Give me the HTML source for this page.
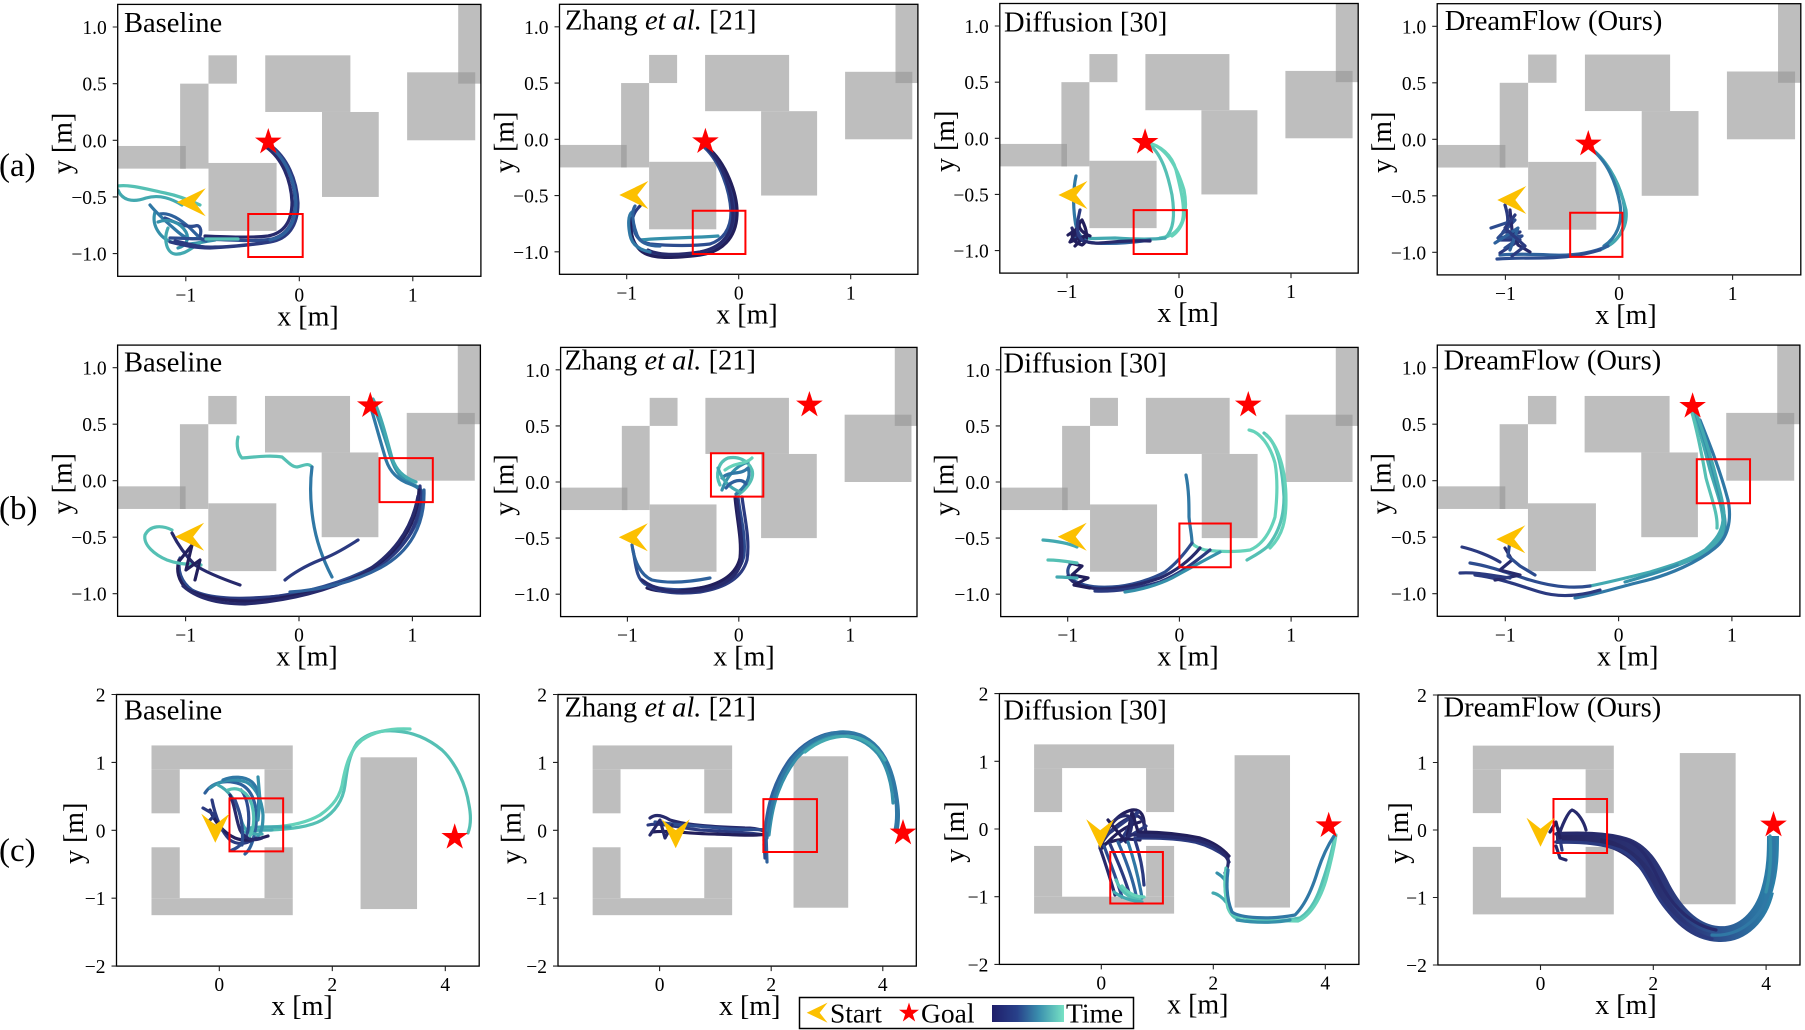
<!DOCTYPE html>
<html><head><meta charset="utf-8"><style>
html,body{margin:0;padding:0;background:#fff;}
svg{display:block;}
text{font-family:"Liberation Serif","Times New Roman",serif;fill:#000;}
.ti{font-size:28.5px;}
.tk{font-size:19.5px;}
.yt{text-anchor:end;}
.xt{text-anchor:middle;}
.al{font-size:28px;text-anchor:middle;}
.rl{font-size:33px;}
.lg{font-size:27.5px;}
.sp{fill:none;stroke:#000;stroke-width:1.3;}
.tm{stroke:#222;stroke-width:1.1;fill:none;}
.t{fill:none;stroke-width:3.2;stroke-linecap:round;stroke-linejoin:round;}
.n0{stroke:#221f5c}.n1{stroke:#272a6c}.n2{stroke:#2b3a80}.n3{stroke:#2d4c8f}.n4{stroke:#2e619c}.n5{stroke:#3078a5}.n6{stroke:#3590aa}.n7{stroke:#43a9b0}.n8{stroke:#55c0b4}.n9{stroke:#65d2ba}
.gc{stroke:url(#gc4)}
.rb{fill:none;stroke:#ff0000;stroke-width:2;vector-effect:non-scaling-stroke;}
.ob{fill:#bebebe;}
.ov{fill:#a5a5a5;}
.st{fill:#ff0000;}
.sm{fill:#fcc000;}
</style></head><body>
<svg width="1805" height="1030" viewBox="0 0 1805 1030" xmlns="http://www.w3.org/2000/svg">
<defs>
<g id="obsAB">
<rect class="ob" x="-0.8" y="0.5" width="0.25" height="0.25"/>
<rect class="ob" x="-1.05" y="-0.25" width="0.25" height="0.75"/>
<rect class="ob" x="-1.7" y="-0.25" width="0.7" height="0.2"/>
<rect class="ob" x="-0.8" y="-0.8" width="0.6" height="0.6"/>
<rect class="ob" x="-0.3" y="0.25" width="0.75" height="0.5"/>
<rect class="ob" x="0.2" y="-0.5" width="0.5" height="0.75"/>
<rect class="ob" x="0.95" y="0" width="0.6" height="0.6"/>
<rect class="ob" x="1.4" y="0.5" width="0.3" height="0.8"/>
<rect class="ov" x="-1.05" y="-0.25" width="0.05" height="0.2"/>
<rect class="ov" x="1.4" y="0.5" width="0.15" height="0.1"/>
</g>
<g id="obsU">
<rect class="ob" x="-1.2" y="0.9" width="2.5" height="0.35"/>
<rect class="ob" x="-1.2" y="0.25" width="0.5" height="0.65"/>
<rect class="ob" x="0.8" y="0.25" width="0.5" height="0.65"/>
<rect class="ob" x="-1.2" y="-1.25" width="2.5" height="0.25"/>
<rect class="ob" x="-1.2" y="-1" width="0.5" height="0.75"/>
<rect class="ob" x="0.8" y="-1" width="0.5" height="0.75"/>
</g>
<polygon id="star" points="0,-1 0.2245,-0.309 0.9511,-0.309 0.3633,0.118 0.5878,0.809 0,0.382 -0.5878,0.809 -0.3633,0.118 -0.9511,-0.309 -0.2245,-0.309"/>
<polygon id="chev" points="0,0 29,-14 18,0 29,14"/>
<linearGradient id="lgd" x1="0" y1="0" x2="1" y2="0">
<stop offset="0" stop-color="#1f1e6a"/><stop offset="0.35" stop-color="#28418a"/><stop offset="0.65" stop-color="#3a8fae"/><stop offset="1" stop-color="#77e2c4"/>
</linearGradient>
<linearGradient id="gc4" x1="0" y1="0" x2="1" y2="0">
<stop offset="0" stop-color="#262560"/><stop offset="0.5" stop-color="#2b3578"/><stop offset="0.75" stop-color="#2d5592"/><stop offset="1" stop-color="#2b80a8"/>
</linearGradient>
<clipPath id="ca1"><rect x="117.7" y="4.4" width="363.2" height="271.9"/></clipPath>
<clipPath id="ca2"><rect x="559.5" y="4.3" width="358.4" height="270"/></clipPath>
<clipPath id="ca3"><rect x="999.8" y="3.5" width="358.4" height="269.6"/></clipPath>
<clipPath id="ca4"><rect x="1437.2" y="3.7" width="363.6" height="271.2"/></clipPath>
<clipPath id="cb1"><rect x="117.6" y="345.1" width="362.8" height="271.2"/></clipPath>
<clipPath id="cb2"><rect x="560.6" y="347.4" width="356.4" height="269.2"/></clipPath>
<clipPath id="cb3"><rect x="1000.7" y="347.4" width="357.4" height="269.2"/></clipPath>
<clipPath id="cb4"><rect x="1437.3" y="345.1" width="362.6" height="271.2"/></clipPath>
<clipPath id="cc1"><rect x="116.5" y="694.5" width="362.7" height="271.6"/></clipPath>
<clipPath id="cc2"><rect x="558" y="694.5" width="358.3" height="271.6"/></clipPath>
<clipPath id="cc3"><rect x="999.4" y="693.6" width="359.5" height="270.8"/></clipPath>
<clipPath id="cc4"><rect x="1437.9" y="695" width="362.1" height="270"/></clipPath>
</defs>
<rect x="0" y="0" width="1805" height="1030" fill="#fff"/>

<!-- Row labels -->
<text class="rl" x="-1" y="176">(a)</text>
<text class="rl" x="-1" y="519">(b)</text>
<text class="rl" x="-1" y="861">(c)</text>

<!-- ===== a1 ===== -->
<g clip-path="url(#ca1)">
<use href="#obsAB" transform="matrix(113.5,0,0,-113.3,299.3,140.3)"/>
<path class="t n8" d="M118,186 C130,184 150,190 165,193 C175,195 185,198 200,205"/>
<path class="t n7" d="M118,190 C122,200 132,203 146,198 C160,194 172,199 182,205"/>
<path class="t n6" d="M155,212 C151,226 161,240 175,243 C190,246 200,242 215,240"/>
<path class="t n7" d="M168,228 C163,240 167,253 175,254 C185,255 191,248 200,243"/>
<path class="t n4" d="M160,214 C170,212 181,220 190,228 C197,235 201,240 206,241"/>
<path class="t n5" d="M150,205 C158,215 170,225 178,232 C185,238 190,240 198,238"/>
<path class="t n3" d="M165,218 C175,222 185,228 195,226 C200,224 202,230 200,236"/>
<path class="t n6" d="M158,222 C168,218 180,222 186,232 C190,240 185,246 178,248"/>
<path class="t n3" d="M268,146 C284,156 294,178 295,200 C296,222 287,235 272,239 C255,242 232,240 205,239 C192,239 180,238 170,238"/>
<path class="t n2" d="M270,145 C287,157 297,180 298,203 C298,226 288,239 270,242 C252,245 230,247 210,248 C195,248 182,245 170,242"/>
<path class="t n1" d="M266,147 C282,158 291,180 292,202 C292,222 284,233 268,236 C250,238 230,237 205,236"/>
<path class="t n4" d="M269,146 C285,157 295,180 296,202 C296,224 286,237 270,240"/>
<path class="t n2" d="M175,241 C190,244 200,248 215,247 C230,247 245,245 262,243"/>
<path class="t n8" d="M206,239 L238,239"/>
<rect class="rb" transform="matrix(113.5,0,0,-113.3,299.3,140.3)" x="-0.45" y="-1.03" width="0.48" height="0.38"/>
</g>
<use href="#star" class="st" transform="translate(268.3,142) scale(14)"/>
<use href="#chev" class="sm" transform="translate(176.7,202.3)"/>
<rect class="sp" x="117.7" y="4.4" width="363.2" height="271.9"/>
<path class="tm" d="M112.7,27H117.7M112.7,83.65H117.7M112.7,140.3H117.7M112.7,196.95H117.7M112.7,253.6H117.7M185.8,276.3V281.3M299.3,276.3V281.3M412.8,276.3V281.3"/>
<text class="ti" x="124" y="32">Baseline</text>
<text class="tk yt" x="106.7" y="34">1.0</text><text class="tk yt" x="106.7" y="90.65">0.5</text><text class="tk yt" x="106.7" y="147.3">0.0</text><text class="tk yt" x="106.7" y="203.95">−0.5</text><text class="tk yt" x="106.7" y="260.6">−1.0</text>
<text class="tk xt" x="185.8" y="301.3">−1</text><text class="tk xt" x="299.3" y="301.3">0</text><text class="tk xt" x="412.8" y="301.3">1</text>
<text class="al" x="308" y="325.3">x [m]</text>
<text class="al" transform="translate(71.7,143.4) rotate(-90)">y [m]</text>

<!-- ===== a2 ===== -->
<g clip-path="url(#ca2)">
<use href="#obsAB" transform="matrix(112,0,0,-112.5,738.7,139.3)"/>
<path class="t n2" d="M706,147 C722,158 735,190 735,210 C735,232 725,246 705,251 C685,256 660,258 645,252 C633,247 630,235 632,222 C633,214 636,210 640,206"/>
<path class="t n0" d="M707,147 C726,162 738,195 737,215 C736,238 722,252 700,255 C675,258 650,260 640,250 C630,240 630,228 631,218"/>
<path class="t n3" d="M705,148 C720,162 730,190 731,212 C731,230 722,240 710,244 C695,246 670,246 650,244 C640,242 635,236 634,228"/>
<path class="t n1" d="M708,149 C724,165 733,195 733,216 C732,236 720,248 700,252 C680,255 660,256 648,250"/>
<path class="t n6" d="M640,240 C660,238 690,238 718,236"/>
<path class="t n5" d="M632,212 C628,215 628,225 630,235 C632,245 640,250 650,252"/>
<path class="t n4" d="M635,206 C631,212 633,225 637,235 C640,243 648,246 660,246"/>
<rect class="rb" transform="matrix(112,0,0,-112.5,738.7,139.3)" x="-0.41" y="-1.02" width="0.47" height="0.385"/>
</g>
<use href="#star" class="st" transform="translate(705.4,141.7) scale(14)"/>
<use href="#chev" class="sm" transform="translate(619.3,195)"/>
<rect class="sp" x="559.5" y="4.3" width="358.4" height="270"/>
<path class="tm" d="M554.5,26.8H559.5M554.5,83.05H559.5M554.5,139.3H559.5M554.5,195.55H559.5M554.5,251.8H559.5M626.7,274.3V279.3M738.7,274.3V279.3M850.7,274.3V279.3"/>
<text class="ti" x="565" y="29.3">Zhang <tspan font-style="italic">et al.</tspan> [21]</text>
<text class="tk yt" x="548.5" y="33.8">1.0</text><text class="tk yt" x="548.5" y="90.05">0.5</text><text class="tk yt" x="548.5" y="146.3">0.0</text><text class="tk yt" x="548.5" y="202.55">−0.5</text><text class="tk yt" x="548.5" y="258.8">−1.0</text>
<text class="tk xt" x="626.7" y="299.3">−1</text><text class="tk xt" x="738.7" y="299.3">0</text><text class="tk xt" x="850.7" y="299.3">1</text>
<text class="al" x="747" y="323.3">x [m]</text>
<text class="al" transform="translate(513.5,142.3) rotate(-90)">y [m]</text>

<!-- ===== a3 ===== -->
<g clip-path="url(#ca3)">
<use href="#obsAB" transform="matrix(112,0,0,-112.3,1179,138.3)"/>
<path class="t n9" d="M1147,143 C1160,145 1172,155 1176,170 C1181,190 1186,210 1182,222 C1178,232 1170,237 1160,238"/>
<path class="t n8" d="M1150,145 C1162,155 1168,175 1172,195 C1175,215 1174,230 1165,238"/>
<path class="t n9" d="M1152,144 C1168,150 1178,170 1184,190 C1188,210 1184,228 1172,236"/>
<path class="t n7" d="M1165,238 C1150,240 1130,239 1115,238 C1100,238 1090,240 1080,236"/>
<path class="t n4" d="M1150,240 C1130,243 1110,244 1095,243 C1085,242 1080,240 1075,238"/>
<path class="t n0" d="M1090,236 C1080,232 1076,225 1082,220 C1086,228 1090,240 1082,245 C1075,243 1070,238 1073,230"/>
<path class="t n5" d="M1076,176 C1073,190 1073,205 1075,220 C1076,230 1080,238 1088,242"/>
<path class="t n1" d="M1072,228 C1075,238 1085,244 1100,243 C1115,242 1130,240 1150,241"/>
<path class="t n0" d="M1068,235 L1078,228 L1070,242 L1085,236 L1075,246"/>
<path class="t n2" d="M1080,210 C1078,220 1074,232 1082,240"/>
<rect class="rb" transform="matrix(112,0,0,-112.3,1179,138.3)" x="-0.405" y="-1.03" width="0.475" height="0.39"/>
</g>
<use href="#star" class="st" transform="translate(1145.1,142.3) scale(14)"/>
<use href="#chev" class="sm" transform="translate(1058.4,195)"/>
<rect class="sp" x="999.8" y="3.5" width="358.4" height="269.6"/>
<path class="tm" d="M994.8,26H999.8M994.8,82.15H999.8M994.8,138.3H999.8M994.8,194.45H999.8M994.8,250.6H999.8M1067,273.1V278.1M1179,273.1V278.1M1291,273.1V278.1"/>
<text class="ti" x="1004" y="31.7">Diffusion [30]</text>
<text class="tk yt" x="988.8" y="33">1.0</text><text class="tk yt" x="988.8" y="89.15">0.5</text><text class="tk yt" x="988.8" y="145.3">0.0</text><text class="tk yt" x="988.8" y="201.45">−0.5</text><text class="tk yt" x="988.8" y="257.6">−1.0</text>
<text class="tk xt" x="1067" y="298.1">−1</text><text class="tk xt" x="1179" y="298.1">0</text><text class="tk xt" x="1291" y="298.1">1</text>
<text class="al" x="1188" y="322.1">x [m]</text>
<text class="al" transform="translate(953.8,141.3) rotate(-90)">y [m]</text>

<!-- ===== a4 ===== -->
<g clip-path="url(#ca4)">
<use href="#obsAB" transform="matrix(113.6,0,0,-113,1619,139.3)"/>
<path class="t n6" d="M1590,148 C1605,158 1618,180 1623,200 C1628,222 1622,238 1608,246"/>
<path class="t n7" d="M1593,150 C1610,165 1620,185 1626,210 C1628,228 1618,242 1600,250"/>
<path class="t n5" d="M1591,149 C1607,161 1616,182 1620,204 C1623,224 1616,238 1604,246"/>
<path class="t n4" d="M1608,246 C1590,254 1570,256 1550,255 C1530,254 1515,254 1500,255"/>
<path class="t n3" d="M1600,250 C1580,256 1560,258 1540,258 C1525,258 1512,258 1497,259"/>
<path class="t n2" d="M1505,205 C1508,215 1510,225 1503,232 L1520,232 L1500,240 L1520,240 L1500,253"/>
<path class="t n3" d="M1491,228 L1515,220 L1498,238 L1522,236 L1505,248"/>
<path class="t n1" d="M1510,210 L1512,230 L1518,245 L1530,252"/>
<path class="t n4" d="M1495,243 L1518,228 L1510,250"/>
<path class="t n2" d="M1515,215 L1505,228 L1525,246 L1512,256"/>
<rect class="rb" transform="matrix(113.6,0,0,-113,1619,139.3)" x="-0.43" y="-1.04" width="0.46" height="0.39"/>
</g>
<use href="#star" class="st" transform="translate(1588.3,144) scale(14)"/>
<use href="#chev" class="sm" transform="translate(1497.3,200)"/>
<rect class="sp" x="1437.2" y="3.7" width="363.6" height="271.2"/>
<path class="tm" d="M1432.2,26.3H1437.2M1432.2,82.8H1437.2M1432.2,139.3H1437.2M1432.2,195.8H1437.2M1432.2,252.3H1437.2M1505.4,274.9V279.9M1619,274.9V279.9M1732.6,274.9V279.9"/>
<text class="ti" x="1444.7" y="30">DreamFlow (Ours)</text>
<text class="tk yt" x="1426.2" y="33.3">1.0</text><text class="tk yt" x="1426.2" y="89.8">0.5</text><text class="tk yt" x="1426.2" y="146.3">0.0</text><text class="tk yt" x="1426.2" y="202.8">−0.5</text><text class="tk yt" x="1426.2" y="259.3">−1.0</text>
<text class="tk xt" x="1505.4" y="299.9">−1</text><text class="tk xt" x="1619" y="299.9">0</text><text class="tk xt" x="1732.6" y="299.9">1</text>
<text class="al" x="1626" y="323.9">x [m]</text>
<text class="al" transform="translate(1391.2,142.3) rotate(-90)">y [m]</text>

<!-- ===== b1 ===== -->
<g clip-path="url(#cb1)">
<use href="#obsAB" transform="matrix(113.4,0,0,-113,299,480.7)"/>
<path class="t n6" d="M371,400 C377,412 382,430 388,448 C392,462 396,474 405,480 C414,485 420,487 422,492"/>
<path class="t n7" d="M373,399 C381,415 387,440 392,458 C396,470 403,477 416,482"/>
<path class="t n5" d="M369,401 C374,418 380,440 386,460 C390,472 398,480 410,484 C418,487 422,490 423,498"/>
<path class="t n3" d="M422,492 C423,520 408,548 375,566 C345,582 305,594 262,598 C232,600 205,597 192,590 C181,582 177,570 180,558"/>
<path class="t n2" d="M420,486 C423,522 405,552 372,570 C342,586 305,594 270,597 C240,599 212,600 196,592"/>
<path class="t n0" d="M419,490 C417,527 398,553 366,572 C336,588 296,597 255,601 C226,602 200,597 187,589 C178,581 176,570 179,560"/>
<path class="t n1" d="M418,496 C412,530 392,557 360,575 C330,590 290,601 245,604 C215,604 195,597 183,586"/>
<path class="t n4" d="M424,490 C425,525 410,552 380,568 C350,584 318,590 290,592"/>
<path class="t n8" d="M238,437 C236,445 238,454 242,458 C255,457 270,455 282,457 C288,462 292,467 297,467 C303,466 308,462 312,467"/>
<path class="t n5" d="M312,467 C310,482 310,500 313,520 C316,540 322,558 332,577"/>
<path class="t n8" d="M172,530 C162,525 150,525 145,535 C143,545 155,555 167,560 C180,565 190,564 201,565"/>
<path class="t n2" d="M358,540 C350,545 335,555 320,560 C305,566 292,574 285,580"/>
<path class="t n1" d="M172,533 C178,545 185,555 195,565 C205,572 220,578 240,585"/>
<path class="t n0" d="M180,560 L192,545 L186,570 L200,560 L195,580"/>
<rect class="rb" transform="matrix(113.4,0,0,-113,299,480.7)" x="0.71" y="-0.19" width="0.47" height="0.39"/>
</g>
<use href="#star" class="st" transform="translate(370.3,405.7) scale(14)"/>
<use href="#chev" class="sm" transform="translate(175.1,536.7)"/>
<rect class="sp" x="117.6" y="345.1" width="362.8" height="271.2"/>
<path class="tm" d="M112.6,367.7H117.6M112.6,424.2H117.6M112.6,480.7H117.6M112.6,537.2H117.6M112.6,593.7H117.6M185.6,616.3V621.3M299,616.3V621.3M412.4,616.3V621.3"/>
<text class="ti" x="124" y="371.7">Baseline</text>
<text class="tk yt" x="106.6" y="374.7">1.0</text><text class="tk yt" x="106.6" y="431.2">0.5</text><text class="tk yt" x="106.6" y="487.7">0.0</text><text class="tk yt" x="106.6" y="544.2">−0.5</text><text class="tk yt" x="106.6" y="600.7">−1.0</text>
<text class="tk xt" x="185.6" y="641.3">−1</text><text class="tk xt" x="299" y="641.3">0</text><text class="tk xt" x="412.4" y="641.3">1</text>
<text class="al" x="307" y="665.3">x [m]</text>
<text class="al" transform="translate(71.6,483.7) rotate(-90)">y [m]</text>

<!-- ===== b2 ===== -->
<g clip-path="url(#cb2)">
<use href="#obsAB" transform="matrix(111.4,0,0,-112.2,738.8,482)"/>
<path class="t n3" d="M738,497 C740,515 746,535 744,555 C741,572 728,582 706,587 C685,591 662,591 645,584 C636,578 636,565 633,550"/>
<path class="t n0" d="M735,497 C737,520 742,540 740,558 C736,575 720,584 700,588 C680,592 660,593 647,588"/>
<path class="t n2" d="M742,497 C745,520 750,540 747,560 C742,578 725,588 700,592 C680,594 660,593 648,586"/>
<path class="t n1" d="M737,500 C739,522 744,545 741,563 C736,580 718,589 695,591 C672,593 655,590 642,580"/>
<path class="t n4" d="M632,545 C634,560 640,575 652,580 C670,584 690,582 710,578"/>
<path class="t n8" d="M720,485 C715,475 718,462 728,458 C738,456 748,460 752,470 C755,480 745,490 738,495"/>
<path class="t n6" d="M722,490 C726,478 735,466 748,462"/>
<path class="t n9" d="M725,470 C735,462 745,465 752,458"/>
<path class="t n5" d="M722,478 C730,470 740,476 748,468 C752,478 744,488 736,494"/>
<path class="t n7" d="M718,468 C722,480 730,488 740,492"/>
<path class="t n4" d="M726,488 C732,480 742,478 746,484"/>
<rect class="rb" transform="matrix(111.4,0,0,-112.2,738.8,482)" x="-0.25" y="-0.13" width="0.47" height="0.386"/>
</g>
<use href="#star" class="st" transform="translate(809.4,405) scale(14)"/>
<use href="#chev" class="sm" transform="translate(618.8,537.3)"/>
<rect class="sp" x="560.6" y="347.4" width="356.4" height="269.2"/>
<path class="tm" d="M555.6,369.8H560.6M555.6,425.9H560.6M555.6,482H560.6M555.6,538.1H560.6M555.6,594.2H560.6M627.4,616.6V621.6M738.8,616.6V621.6M850.2,616.6V621.6"/>
<text class="ti" x="564.5" y="369.3">Zhang <tspan font-style="italic">et al.</tspan> [21]</text>
<text class="tk yt" x="549.6" y="376.8">1.0</text><text class="tk yt" x="549.6" y="432.9">0.5</text><text class="tk yt" x="549.6" y="489">0.0</text><text class="tk yt" x="549.6" y="545.1">−0.5</text><text class="tk yt" x="549.6" y="601.2">−1.0</text>
<text class="tk xt" x="627.4" y="641.6">−1</text><text class="tk xt" x="738.8" y="641.6">0</text><text class="tk xt" x="850.2" y="641.6">1</text>
<text class="al" x="744" y="665.6">x [m]</text>
<text class="al" transform="translate(513.6,485) rotate(-90)">y [m]</text>

<!-- ===== b3 ===== -->
<g clip-path="url(#cb3)">
<use href="#obsAB" transform="matrix(111.7,0,0,-112.2,1179.4,482)"/>
<path class="t n9" d="M1249,430 C1260,432 1270,445 1275,463 C1278,480 1277,500 1275,517 C1270,533 1262,545 1250,550 C1238,552 1220,552 1205,550 C1198,548 1194,546 1192,543"/>
<path class="t n8" d="M1264,433 C1275,440 1282,460 1284,497 C1284,515 1280,532 1267,547 C1260,553 1252,557 1247,560"/>
<path class="t n9" d="M1266,435 C1278,445 1286,470 1286,500 C1286,520 1283,535 1270,548"/>
<path class="t n5" d="M1186,475 C1189,490 1189,505 1189,517 C1190,528 1192,536 1192,543"/>
<path class="t n3" d="M1192,543 C1185,553 1177,563 1165,572 C1150,580 1130,586 1112,587 C1095,588 1080,586 1070,578 C1066,572 1068,566 1072,563"/>
<path class="t n1" d="M1200,548 C1190,560 1178,570 1160,578 C1140,585 1120,589 1100,589 C1085,588 1072,584 1068,576"/>
<path class="t n2" d="M1210,550 C1195,562 1180,574 1160,582 C1140,588 1115,592 1095,591"/>
<path class="t n6" d="M1220,552 C1205,560 1190,568 1172,578 C1158,585 1140,590 1125,592"/>
<path class="t n0" d="M1070,563 L1082,566 L1072,575 L1088,578 L1074,585 L1090,588"/>
<path class="t n7" d="M1043,540 C1055,541 1068,543 1077,547"/>
<path class="t n8" d="M1048,560 C1060,560 1070,562 1077,563"/>
<path class="t n7" d="M1057,577 C1065,577 1072,578 1077,578"/>
<rect class="rb" transform="matrix(111.7,0,0,-112.2,1179.4,482)" x="0" y="-0.76" width="0.46" height="0.39"/>
</g>
<use href="#star" class="st" transform="translate(1248.3,405) scale(14)"/>
<use href="#chev" class="sm" transform="translate(1057.7,536.7)"/>
<rect class="sp" x="1000.7" y="347.4" width="357.4" height="269.2"/>
<path class="tm" d="M995.7,369.8H1000.7M995.7,425.9H1000.7M995.7,482H1000.7M995.7,538.1H1000.7M995.7,594.2H1000.7M1067.7,616.6V621.6M1179.4,616.6V621.6M1291.1,616.6V621.6"/>
<text class="ti" x="1003.5" y="372.7">Diffusion [30]</text>
<text class="tk yt" x="989.7" y="376.8">1.0</text><text class="tk yt" x="989.7" y="432.9">0.5</text><text class="tk yt" x="989.7" y="489">0.0</text><text class="tk yt" x="989.7" y="545.1">−0.5</text><text class="tk yt" x="989.7" y="601.2">−1.0</text>
<text class="tk xt" x="1067.7" y="641.6">−1</text><text class="tk xt" x="1179.4" y="641.6">0</text><text class="tk xt" x="1291.1" y="641.6">1</text>
<text class="al" x="1188" y="665.6">x [m]</text>
<text class="al" transform="translate(953.7,485) rotate(-90)">y [m]</text>

<!-- ===== b4 ===== -->
<g clip-path="url(#cb4)">
<use href="#obsAB" transform="matrix(113.3,0,0,-113,1618.6,480.7)"/>
<path class="t n7" d="M1693,408 C1698,425 1705,450 1710,470 C1716,490 1722,505 1723,520 C1722,532 1716,540 1705,550 C1690,560 1670,566 1650,572 C1630,577 1610,582 1590,586"/>
<path class="t n6" d="M1694,408 C1701,428 1709,455 1715,478 C1720,498 1726,515 1725,528 C1722,540 1712,550 1695,558 C1675,567 1650,575 1625,582"/>
<path class="t n8" d="M1691,409 C1697,430 1702,455 1706,478 C1712,500 1718,515 1717,528"/>
<path class="t n5" d="M1700,420 C1710,445 1720,470 1728,500 C1732,520 1728,538 1715,548 C1698,562 1670,575 1640,582 C1615,588 1595,595 1575,598"/>
<path class="t n7" d="M1696,412 C1704,434 1712,460 1719,488 C1724,506 1726,520 1722,534 C1716,546 1700,556 1680,564"/>
<path class="t n3" d="M1590,586 C1570,589 1550,586 1530,580 C1510,574 1490,566 1470,563"/>
<path class="t n2" d="M1600,590 C1580,596 1560,598 1540,592 C1520,586 1500,578 1475,575"/>
<path class="t n1" d="M1505,548 L1512,560 L1500,570 L1520,575 L1495,580"/>
<path class="t n2" d="M1462,547 C1475,550 1490,556 1500,562"/>
<path class="t n2" d="M1460,573 C1475,572 1490,575 1510,578"/>
<path class="t n3" d="M1510,540 L1508,556 L1520,566 L1535,575"/>
<rect class="rb" transform="matrix(113.3,0,0,-113,1618.6,480.7)" x="0.69" y="-0.2" width="0.47" height="0.39"/>
</g>
<use href="#star" class="st" transform="translate(1692.6,406.3) scale(14)"/>
<use href="#chev" class="sm" transform="translate(1496.3,539.3)"/>
<rect class="sp" x="1437.3" y="345.1" width="362.6" height="271.2"/>
<path class="tm" d="M1432.3,367.7H1437.3M1432.3,424.2H1437.3M1432.3,480.7H1437.3M1432.3,537.2H1437.3M1432.3,593.7H1437.3M1505.3,616.3V621.3M1618.6,616.3V621.3M1731.9,616.3V621.3"/>
<text class="ti" x="1443.6" y="369.3">DreamFlow (Ours)</text>
<text class="tk yt" x="1426.3" y="374.7">1.0</text><text class="tk yt" x="1426.3" y="431.2">0.5</text><text class="tk yt" x="1426.3" y="487.7">0.0</text><text class="tk yt" x="1426.3" y="544.2">−0.5</text><text class="tk yt" x="1426.3" y="600.7">−1.0</text>
<text class="tk xt" x="1505.3" y="641.3">−1</text><text class="tk xt" x="1618.6" y="641.3">0</text><text class="tk xt" x="1731.9" y="641.3">1</text>
<text class="al" x="1627.7" y="665.3">x [m]</text>
<text class="al" transform="translate(1390.3,483.7) rotate(-90)">y [m]</text>

<!-- ===== c1 ===== -->
<g clip-path="url(#cc1)">
<use href="#obsU" transform="matrix(56.5,0,0,-67.9,219.3,830.3)"/>
<rect class="ob" transform="matrix(56.5,0,0,-67.9,219.3,830.3)" x="2.5" y="-1.16" width="1.0" height="2.235"/>
<path class="t n8" d="M270,830 C290,829 310,827 322,820 C335,812 343,800 345,785 C347,770 349,755 357,743 C367,733 380,730 395,731 C415,732 430,740 442,750 C456,763 466,785 469,805 C471,815 471,825 468,833"/>
<path class="t n9" d="M272,827 C292,826 308,822 320,815 C333,806 341,796 343,780 C346,765 350,750 362,740 C375,731 392,728 410,729"/>
<path class="t n7" d="M245,832 C255,830 262,830 272,830"/>
<path class="t n7" d="M250,828 C262,826 275,827 290,827"/>
<path class="t n4" d="M205,793 C212,782 226,779 240,784 C252,789 258,805 256,825 C254,840 250,850 245,854"/>
<path class="t n6" d="M210,788 C220,780 234,778 246,782 C256,787 262,800 263,815 C263,825 262,832 258,836"/>
<path class="t n2" d="M212,800 C215,815 220,830 230,840 C240,847 250,842 256,838"/>
<path class="t n7" d="M218,785 C228,790 236,800 240,815 C243,830 248,835 262,834"/>
<path class="t n3" d="M241,790 C248,798 250,815 248,830 C246,842 238,848 232,850"/>
<path class="t n5" d="M223,780 C232,776 245,776 252,782 C258,788 260,795 258,808"/>
<path class="t n0" d="M210,810 C214,820 222,832 235,838 C245,842 255,840 268,836"/>
<path class="t n1" d="M230,795 C235,805 236,820 240,830 C244,838 252,842 262,838"/>
<path class="t n6" d="M258,777 L260,800 L258,820"/>
<path class="t n2" d="M203,808 L215,815 L208,822 L222,830"/>
<path class="t n8" d="M228,790 C238,786 248,792 252,805 C255,818 254,828 250,836"/>
<path class="t n3" d="M235,800 C240,812 244,826 242,845"/>
<rect class="rb" transform="matrix(56.5,0,0,-67.9,219.3,830.3)" x="0.18" y="-0.31" width="0.95" height="0.78"/>
</g>
<use href="#star" class="st" transform="translate(454.7,837.3) scale(14)"/>
<use href="#chev" class="sm" transform="translate(215.3,842.7) rotate(-90)"/>
<rect class="sp" x="116.5" y="694.5" width="362.7" height="271.6"/>
<path class="tm" d="M111.5,694.5H116.5M111.5,762.4H116.5M111.5,830.3H116.5M111.5,898.2H116.5M111.5,966.1H116.5M219.3,966.1V971.1M332.3,966.1V971.1M445.3,966.1V971.1"/>
<text class="ti" x="124" y="719.3">Baseline</text>
<text class="tk yt" x="105.5" y="701.5">2</text><text class="tk yt" x="105.5" y="769.4">1</text><text class="tk yt" x="105.5" y="837.3">0</text><text class="tk yt" x="105.5" y="905.2">−1</text><text class="tk yt" x="105.5" y="973.1">−2</text>
<text class="tk xt" x="219.3" y="991.1">0</text><text class="tk xt" x="332.3" y="991.1">2</text><text class="tk xt" x="445.3" y="991.1">4</text>
<text class="al" x="302" y="1015.1">x [m]</text>
<text class="al" transform="translate(83,833.3) rotate(-90)">y [m]</text>

<!-- ===== c2 ===== -->
<g clip-path="url(#cc2)">
<use href="#obsU" transform="matrix(55.8,0,0,-67.9,659.6,830.3)"/>
<rect class="ob" transform="matrix(55.8,0,0,-67.9,659.6,830.3)" x="2.4" y="-1.14" width="0.98" height="2.23"/>
<path class="t n1" d="M650,818 C655,814 662,815 670,820 C690,826 720,827 745,828 C755,828 762,830 766,832"/>
<path class="t n2" d="M648,825 C660,822 680,828 700,830 C720,831 745,832 765,835"/>
<path class="t n0" d="M652,832 C670,830 690,834 715,834 C740,835 755,836 765,834"/>
<path class="t n3" d="M655,822 C675,825 700,826 730,829 C750,830 760,829 768,830"/>
<path class="t n1" d="M650,835 L660,820 L665,838 L672,825"/>
<path class="t n5" d="M766,840 C768,820 771,803 776,790 C781,776 786,766 793,757 C804,745 817,737 833,734 C851,732 866,738 878,751 C889,764 894,782 896,800 C897,812 897,822 895,830"/>
<path class="t n6" d="M769,835 C771,817 774,802 779,790 C784,777 790,767 797,758 C808,746 821,738 836,736 C853,735 867,741 878,754 C887,766 892,784 893,803"/>
<path class="t n4" d="M764,845 C765,825 768,806 773,792 C778,778 784,767 791,758 C802,745 816,736 832,733 C850,731 866,737 879,750"/>
<path class="t n5" d="M767,838 C769,818 772,802 777,789 C782,775 788,764 796,755 C807,743 822,734 840,732 C858,731 872,739 882,753 C891,766 896,786 898,806 C899,816 898,826 897,830"/>
<path class="t n7" d="M805,752 C818,741 832,736 848,736 C864,737 876,746 885,760"/>
<path class="t n4" d="M766,833 L767,862"/>
<path class="t n3" d="M764,840 L765,858"/>
<rect class="rb" transform="matrix(55.8,0,0,-67.9,659.6,830.3)" x="1.86" y="-0.32" width="0.96" height="0.78"/>
</g>
<use href="#star" class="st" transform="translate(903,833) scale(14)"/>
<use href="#chev" class="sm" transform="translate(675.7,848.3) rotate(-90)"/>
<rect class="sp" x="558" y="694.5" width="358.3" height="271.6"/>
<path class="tm" d="M553,694.5H558M553,762.4H558M553,830.3H558M553,898.2H558M553,966.1H558M659.6,966.1V971.1M771.2,966.1V971.1M882.8,966.1V971.1"/>
<text class="ti" x="564.5" y="716.7">Zhang <tspan font-style="italic">et al.</tspan> [21]</text>
<text class="tk yt" x="547" y="701.5">2</text><text class="tk yt" x="547" y="769.4">1</text><text class="tk yt" x="547" y="837.3">0</text><text class="tk yt" x="547" y="905.2">−1</text><text class="tk yt" x="547" y="973.1">−2</text>
<text class="tk xt" x="659.6" y="991.1">0</text><text class="tk xt" x="771.2" y="991.1">2</text><text class="tk xt" x="882.8" y="991.1">4</text>
<text class="al" x="749.7" y="1015.1">x [m]</text>
<text class="al" transform="translate(520.4,833.3) rotate(-90)">y [m]</text>

<!-- ===== c3 ===== -->
<g clip-path="url(#cc3)">
<use href="#obsU" transform="matrix(56,0,0,-67.7,1101.3,829)"/>
<rect class="ob" transform="matrix(56,0,0,-67.7,1101.3,829)" x="2.38" y="-1.16" width="0.99" height="2.25"/>
<path class="t n0" d="M1100,848 C1105,830 1117,813 1132,810 C1141,809 1145,816 1144,828"/>
<path class="t n1" d="M1100,846 C1108,832 1120,820 1135,816 C1142,815 1146,825 1146,836"/>
<path class="t n0" d="M1102,848 C1115,834 1125,826 1140,822"/>
<path class="t n2" d="M1100,840 L1138,812 L1120,842 L1146,826"/>
<path class="t n0" d="M1108,820 L1126,842 L1132,812 L1140,838"/>
<path class="t n1" d="M1104,834 C1110,822 1120,814 1128,816 C1134,820 1132,832 1126,840"/>
<path class="t n0" d="M1103,845 C1112,840 1125,838 1140,840"/>
<path class="t n1" d="M1130,835 C1150,834 1170,834 1190,838 C1205,841 1218,846 1226,853 C1230,860 1228,868 1225,873"/>
<path class="t n2" d="M1135,838 C1155,838 1175,838 1195,842 C1210,846 1220,852 1228,858"/>
<path class="t n0" d="M1140,832 C1160,832 1180,834 1200,838 C1213,842 1222,848 1229,856"/>
<path class="t n1" d="M1138,836 C1160,836 1182,837 1200,841 C1214,845 1224,851 1229,862"/>
<path class="t n1" d="M1100,848 C1105,862 1110,878 1115,895"/>
<path class="t n3" d="M1104,846 C1110,862 1117,880 1122,897"/>
<path class="t n2" d="M1110,844 C1117,860 1125,878 1130,896"/>
<path class="t n4" d="M1118,842 C1125,858 1132,876 1136,895"/>
<path class="t n5" d="M1128,842 C1134,860 1139,880 1142,898"/>
<path class="t n2" d="M1135,840 C1140,855 1143,870 1144,885"/>
<path class="t n8" d="M1116,880 C1120,890 1128,898 1140,900"/>
<path class="t n9" d="M1122,886 C1128,893 1135,897 1144,897"/>
<path class="t n7" d="M1114,892 C1122,898 1132,901 1142,902"/>
<path class="t n6" d="M1217,873 C1222,876 1226,880 1227,885"/>
<path class="t n7" d="M1213,893 C1218,894 1223,898 1226,902"/>
<path class="t n8" d="M1226,868 C1224,880 1225,895 1228,908 C1231,916 1236,920 1245,921 C1260,922 1280,922 1300,918 C1312,910 1318,896 1323,880 C1328,866 1332,850 1335,837"/>
<path class="t n9" d="M1226,872 C1224,885 1225,900 1230,912 C1240,920 1270,921 1298,921 C1310,916 1320,900 1326,880 C1331,862 1334,848 1336,835"/>
<path class="t n5" d="M1228,870 C1226,885 1227,900 1232,912 C1240,918 1270,920 1295,915 C1305,905 1312,890 1318,870 C1324,852 1330,842 1334,836"/>
<path class="t n6" d="M1237,920 C1255,923 1275,923 1290,920"/>
<rect class="rb" transform="matrix(56,0,0,-67.7,1101.3,829)" x="0.16" y="-1.1" width="0.94" height="0.76"/>
</g>
<use href="#star" class="st" transform="translate(1328.7,825.7) scale(14)"/>
<use href="#chev" class="sm" transform="translate(1100.2,848.3) rotate(-90)"/>
<rect class="sp" x="999.4" y="693.6" width="359.5" height="270.8"/>
<path class="tm" d="M994.4,693.6H999.4M994.4,761.3H999.4M994.4,829H999.4M994.4,896.7H999.4M994.4,964.4H999.4M1101.3,964.4V969.4M1213.3,964.4V969.4M1325.3,964.4V969.4"/>
<text class="ti" x="1003.5" y="719.3">Diffusion [30]</text>
<text class="tk yt" x="988.4" y="700.6">2</text><text class="tk yt" x="988.4" y="768.3">1</text><text class="tk yt" x="988.4" y="836">0</text><text class="tk yt" x="988.4" y="903.7">−1</text><text class="tk yt" x="988.4" y="971.4">−2</text>
<text class="tk xt" x="1101.3" y="989.4">0</text><text class="tk xt" x="1213.3" y="989.4">2</text><text class="tk xt" x="1325.3" y="989.4">4</text>
<text class="al" x="1197.8" y="1013.4">x [m]</text>
<text class="al" transform="translate(964,832) rotate(-90)">y [m]</text>

<!-- ===== c4 ===== -->
<g clip-path="url(#cc4)">
<use href="#obsU" transform="matrix(56.4,0,0,-67.5,1540.5,830)"/>
<rect class="ob" transform="matrix(56.4,0,0,-67.5,1540.5,830)" x="2.47" y="-1.1" width="0.99" height="2.24"/>
<path class="gc" fill="none" stroke-width="12" stroke-linejoin="round" d="M1556,838 C1580,837 1605,837 1625,843 C1645,849 1655,868 1665,888 C1678,912 1695,930 1718,932 C1742,934 1760,915 1767,890 C1773,870 1773,850 1773,836"/>
<path class="gc" fill="none" stroke-width="8" stroke-linejoin="round" d="M1600,842 C1628,846 1648,868 1660,893 C1673,918 1693,937 1719,938 C1745,939 1764,918 1770,892"/>
<path class="t n1" d="M1556,834 C1580,833 1605,833 1626,840 C1645,847 1652,866 1662,886 C1674,908 1692,925 1716,930"/>
<path class="t n2" d="M1556,842 C1580,842 1602,843 1620,850 C1636,857 1645,873 1655,892 C1668,915 1686,932 1712,939"/>
<path class="t n5" d="M1712,935 C1738,937 1760,920 1768,895 C1774,876 1775,856 1774,838"/>
<path class="t n6" d="M1766,892 C1771,872 1771,852 1770,836"/>
<path class="t n1" d="M1558,838 C1562,825 1568,812 1572,810 C1578,812 1584,822 1586,830"/>
<path class="t n2" d="M1558,828 L1562,850"/>
<path class="t n0" d="M1550,832 L1556,822 L1560,838"/>
<path class="t n1" d="M1556,846 L1560,858 L1566,860"/>
<rect class="rb" transform="matrix(56.4,0,0,-67.5,1540.5,830)" x="0.23" y="-0.34" width="0.95" height="0.8"/>
</g>
<use href="#star" class="st" transform="translate(1773.5,825) scale(14)"/>
<use href="#chev" class="sm" transform="translate(1540.5,846.7) rotate(-90)"/>
<rect class="sp" x="1437.9" y="695" width="362.1" height="270"/>
<path class="tm" d="M1432.9,695H1437.9M1432.9,762.5H1437.9M1432.9,830H1437.9M1432.9,897.5H1437.9M1432.9,965H1437.9M1540.5,965V970M1653.3,965V970M1766.1,965V970"/>
<text class="ti" x="1443.6" y="716.7">DreamFlow (Ours)</text>
<text class="tk yt" x="1426.9" y="702">2</text><text class="tk yt" x="1426.9" y="769.5">1</text><text class="tk yt" x="1426.9" y="837">0</text><text class="tk yt" x="1426.9" y="904.5">−1</text><text class="tk yt" x="1426.9" y="972">−2</text>
<text class="tk xt" x="1540.5" y="990">0</text><text class="tk xt" x="1653.3" y="990">2</text><text class="tk xt" x="1766.1" y="990">4</text>
<text class="al" x="1626" y="1014">x [m]</text>
<text class="al" transform="translate(1408,833) rotate(-90)">y [m]</text>

<!-- ===== Legend ===== -->
<rect x="799.5" y="997.5" width="334" height="31" fill="#fff" stroke="#000" stroke-width="1.5"/>
<use href="#chev" class="sm" transform="translate(806.7,1012.7) scale(0.72)"/>
<text class="lg" x="830" y="1022.5">Start</text>
<use href="#star" class="st" transform="translate(909,1013) scale(10.5)"/>
<text class="lg" x="921" y="1022.5">Goal</text>
<rect x="992" y="1005" width="72" height="17" fill="url(#lgd)"/>
<text class="lg" x="1066" y="1022.5">Time</text>
</svg>
</body></html>
